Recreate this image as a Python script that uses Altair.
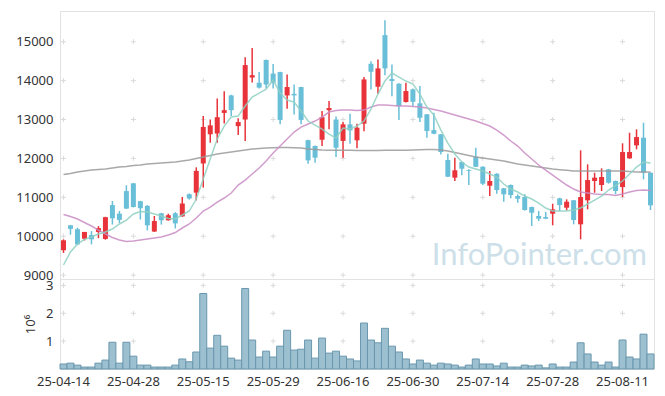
import altair as alt
import pandas as pd

dates = ["25-04-14","25-04-15","25-04-16","25-04-17","25-04-18","25-04-21","25-04-22","25-04-23","25-04-24","25-04-25",
         "25-04-28","25-04-29","25-04-30","25-05-02","25-05-07","25-05-08","25-05-09","25-05-12","25-05-13","25-05-14",
         "25-05-15","25-05-16","25-05-19","25-05-20","25-05-21","25-05-22","25-05-23","25-05-26","25-05-27","25-05-28",
         "25-05-29","25-05-30","25-06-02","25-06-04","25-06-05","25-06-09","25-06-10","25-06-11","25-06-12","25-06-13",
         "25-06-16","25-06-17","25-06-18","25-06-19","25-06-20","25-06-23","25-06-24","25-06-25","25-06-26","25-06-27",
         "25-06-30","25-07-01","25-07-02","25-07-03","25-07-04","25-07-07","25-07-08","25-07-09","25-07-10","25-07-11",
         "25-07-14","25-07-15","25-07-16","25-07-17","25-07-18","25-07-21","25-07-22","25-07-23","25-07-24","25-07-25",
         "25-07-28","25-07-29","25-07-30","25-07-31","25-08-01","25-08-04","25-08-05","25-08-06","25-08-07","25-08-08",
         "25-08-11","25-08-12","25-08-13","25-08-14","25-08-18"]

open_ = [9640,10280,10180,9936,10030,10110,9930,10800,10580,11160,
         11360,10900,10780,10120,10590,10410,10590,10510,11080,11120,
         11870,12620,12640,13170,13620,12830,13000,14080,13945,14530,
         14180,14220,13620,13660,13835,12470,12320,12480,13240,13000,
         12450,12876,12465,12893,14433,13843,15170,14040,13920,13450,
         13775,13416,13133,12729,12620,11958,11505,11907,11700,12043,
         11786,11298,11606,11231,11316,11033,11007,10750,10519,10493,
         10578,10974,10733,10923,10306,10923,11419,11316,11719,11419,
         11264,12002,12336,12532,11632]
high = [9920,10290,10220,10110,10130,10260,10500,10905,10650,11310,
        11370,10910,10800,10520,10600,10580,10620,11010,11100,11770,
        13090,13000,13540,13730,13640,13030,14600,14840,14220,14540,
        14430,14230,14160,13900,13840,12480,12330,13220,13475,13080,
        12935,13150,12890,14090,14500,14546,15550,14417,13930,13945,
        13800,13860,13140,13174,12630,12120,12018,11920,11720,12275,
        11800,11676,11620,11240,11330,11077,11080,10760,10648,10622,
        10835,10990,10948,10930,12208,11848,11632,11745,11730,11430,
        12388,12660,12747,12917,11640]
low = [9570,10040,9770,9890,9790,9950,9910,10300,10340,10700,
       10740,10430,10150,10110,10300,10400,10200,10500,10940,10920,
       11250,12400,12400,12900,13090,12600,12450,13950,13800,13800,
       13800,12880,13280,13130,12880,11860,11890,12320,12750,12035,
       12020,12380,12260,12700,13775,13660,14140,13600,12990,13440,
       13346,12935,12530,12620,12100,11520,11420,11570,11316,11780,
       11316,11033,11090,10887,10974,10861,10660,10262,10390,10440,
       10280,10648,10665,10306,9920,10691,11118,11162,11350,11077,
       11007,11990,12233,11462,10673]
close = [9895,10190,9790,10110,9920,10210,10490,10460,10420,10710,
         10750,10720,10280,10390,10410,10540,10330,10840,10970,11680,
         12810,12850,13060,13240,13240,12935,14400,14140,13820,13900,
         13945,12990,13835,13620,12990,11950,12020,13060,13295,12275,
         12876,12720,12790,14030,14228,14315,14315,13990,13346,13732,
         13457,13046,12704,12634,12164,11530,11694,11735,11680,11786,
         11350,11419,11187,11077,11059,10964,10673,10604,10450,10450,
         10691,10802,10887,10416,11007,11444,11505,11522,11375,11162,
         12164,12164,12549,11632,10794]
volume = [180000,210000,140000,70000,70000,210000,320000,960000,210000,960000,
          460000,140000,140000,70000,70000,70000,140000,360000,260000,610000,
          2710000,750000,1210000,820000,390000,320000,2890000,1040000,430000,640000,
          430000,820000,1390000,680000,710000,1040000,390000,1110000,570000,640000,
          460000,360000,290000,1650000,1040000,940000,1460000,820000,610000,360000,
          180000,320000,210000,140000,210000,180000,140000,70000,140000,360000,
          180000,180000,110000,210000,70000,70000,140000,110000,140000,40000,
          180000,70000,70000,250000,940000,540000,250000,140000,250000,70000,
          1040000,430000,360000,1250000,540000]
ma5 = [9260,9594,9800,9915,9979,10057,10108,10185,10314,10416,
       10571,10635,10622,10571,10519,10455,10442,10545,10648,10956,
       11470,11984,12498,12832,13063,13089,13346,13577,13680,13783,
       14014,13680,13500,13449,13218,12961,12858,12755,12627,12524,
       12781,12755,12832,12961,13269,13655,13989,14194,14091,13989,
       13912,13655,13320,13115,12729,12395,12113,11907,11778,11727,
       11676,11599,11521,11342,11213,11136,11033,10956,10853,10725,
       10648,10648,10648,10673,10725,10828,10930,11033,11187,11300,
       11419,11599,11778,11907,11881]
ma20 = [10558,10506,10442,10352,10262,10159,10057,9967,9902,9864,
        9877,9902,9928,9954,9979,10031,10095,10211,10314,10468,
        10648,10750,10879,10982,11110,11316,11444,11599,11753,11933,
        12138,12318,12498,12678,12806,12884,12961,13063,13192,13230,
        13243,13243,13230,13243,13320,13372,13372,13359,13346,13346,
        13333,13320,13295,13256,13218,13166,13115,13063,13012,12961,
        12896,12832,12729,12601,12447,12318,12138,11984,11830,11701,
        11573,11444,11316,11213,11136,11110,11085,11072,11072,11046,
        11085,11136,11174,11187,11174]
ma60 = [11586,11611,11650,11676,11701,11714,11727,11753,11778,11791,
        11817,11830,11856,11868,11881,11894,11907,11933,11958,11997,
        12035,12074,12113,12138,12164,12190,12215,12241,12254,12267,
        12274,12280,12280,12274,12267,12241,12228,12215,12208,12208,
        12208,12208,12202,12202,12202,12202,12208,12208,12208,12208,
        12215,12223,12228,12228,12215,12190,12151,12113,12074,12035,
        12010,11984,11958,11933,11894,11856,11830,11804,11778,11753,
        11727,11709,11694,11676,11676,11676,11676,11676,11676,11676,
        11676,11663,11650,11650,11650]

price_ticks = [9000, 10000, 11000, 12000, 13000, 14000, 15000]
vol_ticks = [1000000, 2000000, 3000000]
tick_dates = dates[::10]

RED = "#e8333a"
BLUE = "#69bfd8"
FONT = "Noto Sans"
CROSS = "M-1,0L1,0M0,-1L0,1"

df = pd.DataFrame({"date": dates, "open": open_, "high": high, "low": low,
                   "close": close, "volume": volume,
                   "ma5": ma5, "ma20": ma20, "ma60": ma60})
df["dir"] = ["up" if c >= o else "down" for o, c in zip(open_, close)]

grid_p = pd.DataFrame([{"date": d, "v": v} for d in tick_dates for v in price_ticks])
grid_v = pd.DataFrame([{"date": d, "v": v} for d in tick_dates for v in vol_ticks])

xscale = alt.Scale(type="band", domain=dates, paddingInner=0, paddingOuter=0)
pscale = alt.Scale(domain=[8900, 15790], nice=False, zero=False)
vscale = alt.Scale(domain=[0, 3230000], nice=False)

x_hidden = alt.X("date:O", scale=xscale, axis=None)
color = alt.Color("dir:N", scale=alt.Scale(domain=["up", "down"], range=[RED, BLUE]), legend=None)

yaxis_p = alt.Axis(values=price_ticks, format="d", ticks=False, domain=False, grid=False,
                   labelFontSize=13, labelColor="#333", labelFont=FONT, labelPadding=7, title=None)

cross_p = alt.Chart(grid_p).mark_point(shape=CROSS, size=25, filled=False, stroke="#dadada",
                                        strokeWidth=1, opacity=1).encode(
    x=x_hidden, y=alt.Y("v:Q", scale=pscale, axis=yaxis_p))

watermark = alt.Chart(pd.DataFrame({"t": ["InfoPointer.com"]})).mark_text(
    font="Lato", fontSize=31, color="#cddfe9", align="right", baseline="alphabetic").encode(
    text="t:N", x=alt.value(587), y=alt.value(254))

wicks = alt.Chart(df).mark_rule(strokeWidth=1.5).encode(
    x=x_hidden, y=alt.Y("low:Q", scale=pscale), y2="high:Q", color=color)
bodies = alt.Chart(df).mark_bar(size=5).encode(
    x=x_hidden, y=alt.Y("open:Q", scale=pscale), y2="close:Q", color=color)

def ma_line(field, col):
    return alt.Chart(df).mark_line(strokeWidth=1.5, color=col, opacity=0.85).encode(
        x=x_hidden, y=alt.Y(f"{field}:Q", scale=pscale))

price = alt.layer(cross_p, watermark, wicks, bodies,
                  ma_line("ma60", "#9a9a9a"), ma_line("ma20", "#c98cc4"), ma_line("ma5", "#8fd0c2")
                  ).properties(width=594, height=268)

xaxis_v = alt.Axis(values=tick_dates, labelAngle=0, ticks=False, domain=False, grid=False,
                   labelFontSize=13, labelColor="#333", labelFont=FONT, labelPadding=6, title=None)
yaxis_v = alt.Axis(values=vol_ticks, labelExpr="datum.value / 1000000", ticks=False, domain=False,
                   grid=False, labelFontSize=13, labelColor="#333", labelFont=FONT, labelPadding=7,
                   title="10⁶", titleFont=FONT, titleFontSize=13, titleFontWeight="normal",
                   titleColor="#333", titlePadding=8)

cross_v = alt.Chart(grid_v).mark_point(shape=CROSS, size=25, filled=False, stroke="#dadada",
                                        strokeWidth=1, opacity=1).encode(
    x=alt.X("date:O", scale=xscale, axis=xaxis_v),
    y=alt.Y("v:Q", scale=vscale, axis=yaxis_v))
vbars = alt.Chart(df).mark_bar(fill="#9cc0d0", stroke="#6a97ae", strokeWidth=1).encode(
    x=alt.X("date:O", scale=xscale), y=alt.Y("volume:Q", scale=vscale))

vol = alt.layer(cross_v, vbars).properties(width=594, height=90)

chart = alt.vconcat(price, vol, spacing=0, bounds="flush").properties(
    padding={"left": 7, "top": 2, "right": 1, "bottom": 0}
).configure_view(stroke="#e2e2e2")

chart.save("out.html", embed_options={"renderer": "svg", "actions": False})
